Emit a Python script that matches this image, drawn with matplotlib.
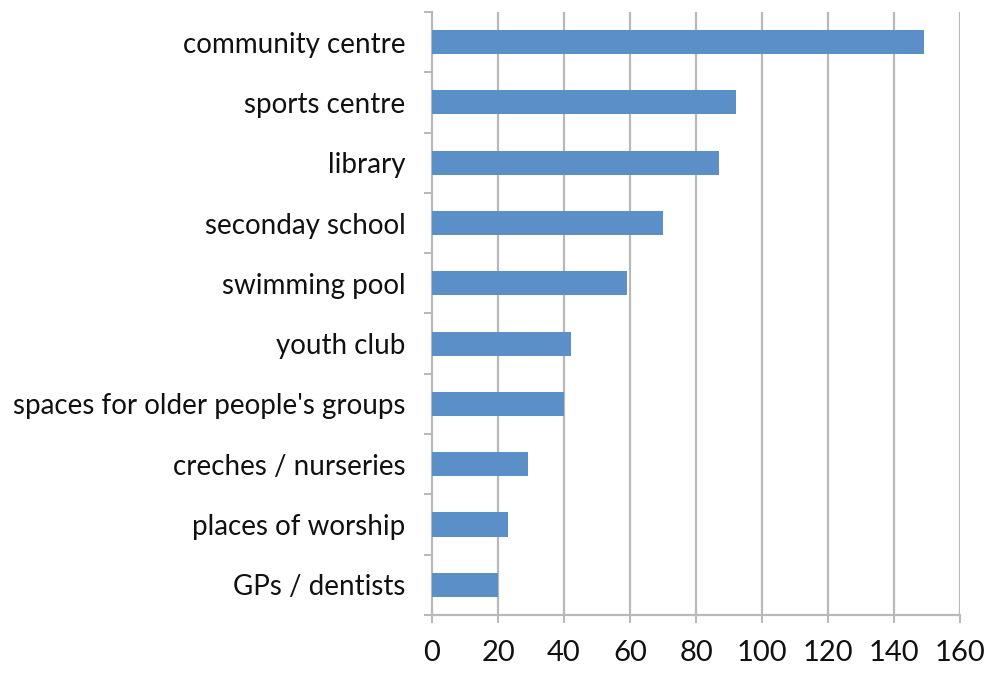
import numpy as np
import matplotlib.pyplot as plt
from matplotlib.ticker import MultipleLocator, FixedLocator

# amenities and number of mentions, top to bottom
facilities = [
    "community centre",
    "sports centre",
    "library",
    "seconday school",
    "swimming pool",
    "youth club",
    "spaces for older people's groups",
    "creches / nurseries",
    "places of worship",
    "GPs / dentists",
]
counts = [149, 92, 87, 70, 59, 42, 40, 29, 23, 20]

plt.rcParams['font.family'] = ['Lato', 'DejaVu Sans']

fig = plt.figure(figsize=(9.87, 6.73), dpi=100)
ax = fig.add_axes([0.4377, 0.0862, 0.535, 0.896])

y = np.arange(len(facilities))[::-1]
ax.barh(y, counts, height=0.4, color='#5B8FC8', zorder=3)

ax.set_xlim(0, 160)
ax.set_ylim(-0.5, len(facilities) - 0.5)
ax.xaxis.set_major_locator(MultipleLocator(20))
ax.set_yticks(y)
ax.set_yticklabels(facilities)
ax.yaxis.set_minor_locator(FixedLocator(np.arange(-0.5, len(facilities), 1.0)))

grey = '#B8B8B8'
for xv in range(20, 161, 20):
    ax.axvline(xv, color=grey, lw=1.6, zorder=1)

for side in ('top', 'right'):
    ax.spines[side].set_visible(False)
for side in ('left', 'bottom'):
    ax.spines[side].set_color(grey)
    ax.spines[side].set_linewidth(1.6)

ax.tick_params(axis='y', which='major', length=0, pad=19, labelsize=20, labelcolor='#111111')
ax.tick_params(axis='y', which='minor', length=6, width=1.4, color=grey)
ax.tick_params(axis='x', which='major', length=6, width=1.4, color=grey, pad=12,
               labelsize=21, labelcolor='#111111')

fig.savefig('out.png', dpi=100)
